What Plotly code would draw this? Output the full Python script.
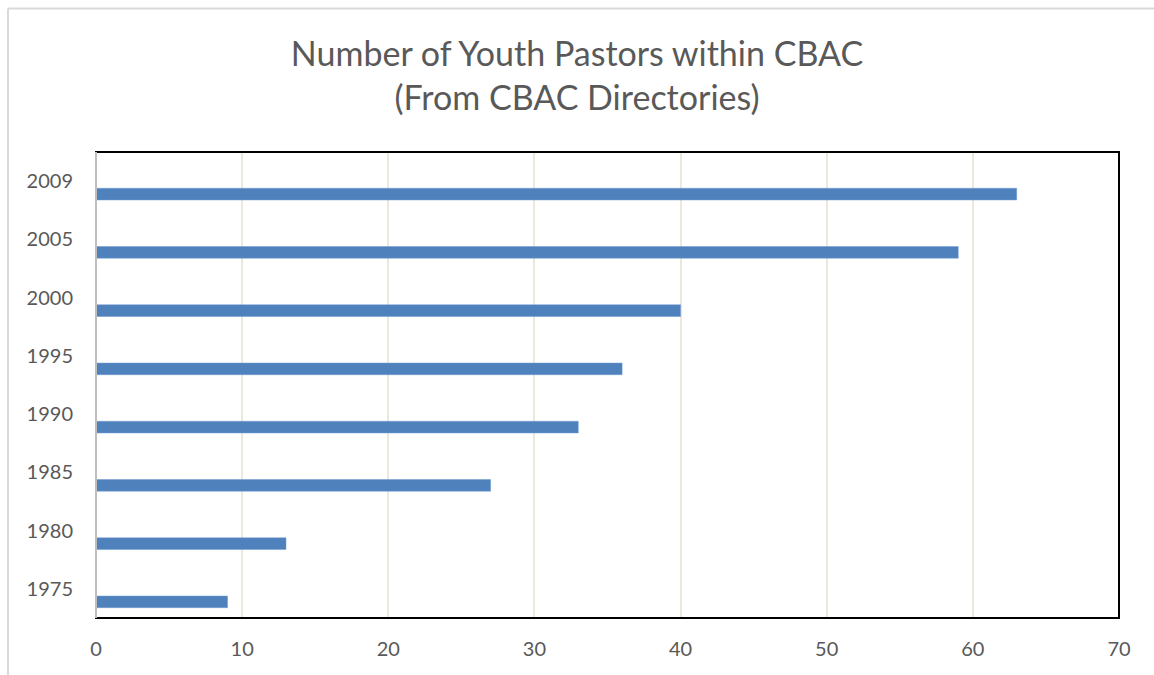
import plotly.graph_objects as go

years = ["1975", "1980", "1985", "1990", "1995", "2000", "2005", "2009"]
pastors = [9, 13, 27, 33, 36, 40, 59, 63]
x_ticks = [0, 10, 20, 30, 40, 50, 60, 70]

title_text = "Number of Youth Pastors within CBAC<br>(From CBAC Directories)"
text_color = "#595959"
font_family = "Lato, 'Open Sans', sans-serif"

fig = go.Figure()
fig.add_trace(go.Bar(
    x=pastors, y=years, orientation="h",
    width=0.2, offset=-0.323,
    marker=dict(color="#4f81bd", line=dict(color="#6f9ad0", width=0.5)),
    hoverinfo="x+y",
))

fig.update_layout(
    width=1154, height=675,
    margin=dict(l=96, r=35, t=152, b=57),
    paper_bgcolor="white", plot_bgcolor="white",
    showlegend=False,
    title=dict(text=title_text, x=0.5, xanchor="center", y=1 - 66/675, yanchor="middle",
               font=dict(family=font_family, size=34, color=text_color)),
    font=dict(family=font_family, size=20, color=text_color),
    xaxis=dict(range=[0, 70], tickvals=x_ticks, showgrid=True, gridcolor="#ebe8dc",
               gridwidth=1.5, zeroline=False, showline=False,
               ticks="", ticklabelstandoff=17,
               tickfont=dict(size=20, color=text_color)),
    yaxis=dict(type="category", categoryorder="array", categoryarray=years,
               showgrid=False, zeroline=False, showline=False, ticks="",
               ticklabelstandoff=22, tickfont=dict(size=20, color=text_color)),
    shapes=[
        dict(type="rect", xref="paper", yref="paper", x0=0, x1=1, y0=0, y1=1,
             line=dict(color="black", width=2), fillcolor="rgba(0,0,0,0)", layer="above"),
        dict(type="line", xref="paper", yref="paper", x0=0, x1=0, y0=0, y1=1,
             line=dict(color="#bfbfbf", width=2), layer="above"),
        dict(type="line", xref="paper", yref="paper",
             x0=-88/1023, x1=-88/1023, y0=-57/466, y1=(152-8.5)/466 + 1,
             line=dict(color="#d9d9d9", width=2)),
        dict(type="line", xref="paper", yref="paper",
             x0=-88/1023, x1=1 + 35/1023, y0=(152-8.5)/466 + 1, y1=(152-8.5)/466 + 1,
             line=dict(color="#d9d9d9", width=2)),
    ],
)

fig.write_html("out.html")
